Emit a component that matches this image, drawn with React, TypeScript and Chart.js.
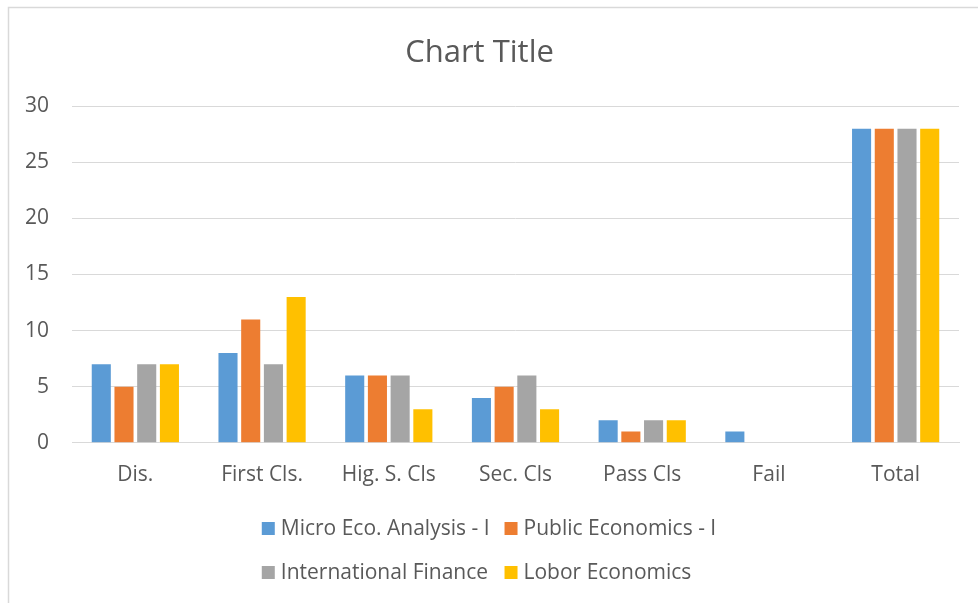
import React, { useEffect, useRef } from "react";
import { Chart, registerables } from "chart.js";

Chart.register(...registerables);

const categories = ["Dis.", "First Cls.", "Hig. S. Cls", "Sec. Cls", "Pass Cls", "Fail", "Total"];
const microEco = [7, 8, 6, 4, 2, 1, 28];
const publicEco = [5, 11, 6, 5, 1, 0, 28];
const intlFinance = [7, 7, 6, 6, 2, 0, 28];
const loborEco = [7, 13, 3, 3, 2, 0, 28];
const seriesNames = ["Micro Eco. Analysis - I", "Public Economics - I", "International Finance", "Lobor Economics"];
const seriesColors = ["#5B9BD5", "#ED7D31", "#A5A5A5", "#FFC000"];

const FONT = "'Open Sans', 'DejaVu Sans', sans-serif";
const TEXT = "#595959";

const framePlugin = {
  id: "frame",
  beforeDraw(chart: any) {
    const ctx = chart.ctx;
    ctx.save();
    ctx.fillStyle = "#ffffff";
    ctx.fillRect(0, 0, chart.width, chart.height);
    ctx.strokeStyle = "#d9d9d9";
    ctx.lineWidth = 1.5;
    ctx.strokeRect(8.5, 7.5, chart.width + 20, chart.height + 20);
    ctx.restore();
  },
};

const legendPlugin = {
  id: "gridLegend",
  afterDraw(chart: any) {
    const ctx = chart.ctx;
    const ds = chart.data.datasets;
    ctx.save();
    ctx.font = `21px ${FONT}`;
    const box = 13;
    const gap = 6;
    const colGap = 15;
    const widths = ds.map((d: any) => box + gap + ctx.measureText(d.label).width);
    const col1 = Math.max(widths[0], widths[2]);
    const col2 = Math.max(widths[1], widths[3]);
    const total = col1 + colGap + col2;
    const startX = (chart.width - total) / 2;
    const rows = [528.5, 572.5];
    ds.forEach((d: any, i: number) => {
      const row = Math.floor(i / 2);
      const col = i % 2;
      const x = col === 0 ? startX : startX + col1 + colGap;
      const y = rows[row];
      ctx.fillStyle = d.backgroundColor;
      ctx.fillRect(x, y - box / 2, box, box);
      ctx.fillStyle = TEXT;
      ctx.textBaseline = "middle";
      ctx.textAlign = "left";
      ctx.fillText(d.label, x + box + gap, y + 1);
    });
    ctx.restore();
  },
};

export default function App() {
  const ref = useRef<HTMLCanvasElement | null>(null);
  useEffect(() => {
    if (!ref.current) return;
    const data = [microEco, publicEco, intlFinance, loborEco];
    const chart = new Chart(ref.current, {
      type: "bar",
      data: {
        labels: categories,
        datasets: data.map((values, i) => ({
          label: seriesNames[i],
          data: values,
          backgroundColor: seriesColors[i],
          borderWidth: 0,
          categoryPercentage: 0.717,
          barPercentage: 0.84,
        })),
      },
      options: {
        animation: false,
        responsive: false,
        maintainAspectRatio: false,
        layout: { padding: { left: 0, right: 19, top: 0, bottom: 96 } },
        plugins: {
          legend: { display: false },
          tooltip: { enabled: false },
          title: {
            display: true,
            text: "Chart Title",
            color: TEXT,
            font: { family: FONT, size: 31, weight: "normal", lineHeight: 1.2 },
            padding: { top: 35, bottom: 34 },
          },
        },
        scales: {
          x: {
            grid: { display: false, drawTicks: false },
            border: { display: true, color: "#d9d9d9", width: 1 },
            ticks: { color: TEXT, font: { family: FONT, size: 21, lineHeight: 1.2 }, padding: 19.5, maxRotation: 0, autoSkip: false },
          },
          y: {
            min: 0,
            max: 30,
            afterFit(scale: any) {
              scale.width = 72;
            },
            grid: { color: "#d9d9d9", lineWidth: 1, drawTicks: false },
            border: { display: false },
            ticks: { stepSize: 5, color: TEXT, font: { family: FONT, size: 21, lineHeight: 1.2 }, padding: 23 },
          },
        },
      },
      plugins: [framePlugin, legendPlugin],
    });
    return () => chart.destroy();
  }, []);
  return (
    <div style={{ position: "absolute", left: 0, top: 0, width: 978, height: 603 }}>
      <canvas ref={ref} width={978} height={603} style={{ display: "block", width: 978, height: 603 }} />
    </div>
  );
}
